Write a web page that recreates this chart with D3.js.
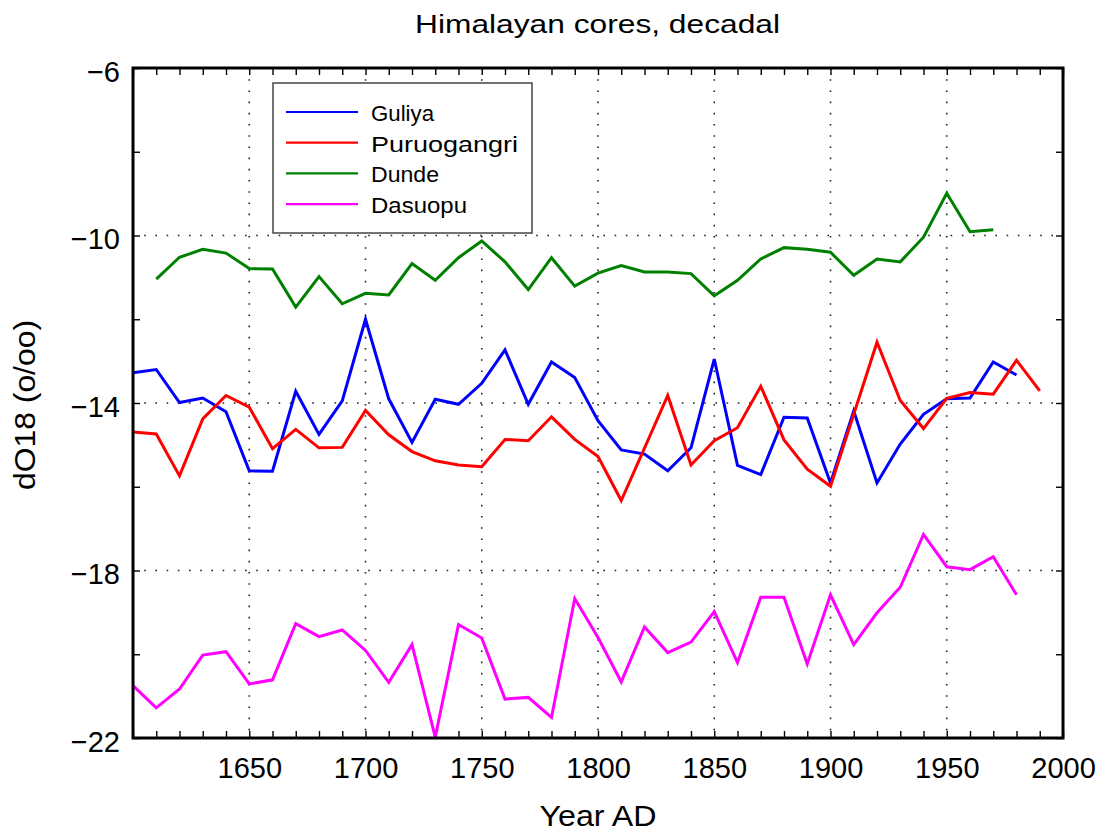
<!DOCTYPE html>
<html>
<head>
<meta charset="utf-8">
<script src="https://cdn.jsdelivr.net/npm/d3@7"></script>
<style>
  html, body { margin: 0; padding: 0; background: #fff; }
  svg { display: block; }
  text { font-family: "Liberation Sans", Arial, sans-serif; fill: #000; }
</style>
</head>
<body>
<svg id="chart" width="1107" height="834"></svg>
<script>
// ---- data ----
const years = [1600,1610,1620,1630,1640,1650,1660,1670,1680,1690,
               1700,1710,1720,1730,1740,1750,1760,1770,1780,1790,
               1800,1810,1820,1830,1840,1850,1860,1870,1880,1890,
               1900,1910,1920,1930,1940,1950,1960,1970,1980,1990];

const guliya = [-13.28,-13.20,-13.99,-13.88,-14.21,-15.62,-15.63,-13.72,-14.75,-13.95,
                -12.00,-13.90,-14.94,-13.91,-14.03,-13.53,-12.73,-14.03,-13.02,-13.39,
                -14.42,-15.12,-15.22,-15.62,-15.07,-12.95,-15.49,-15.71,-14.34,-14.36,
                -15.91,-14.19,-15.91,-14.98,-14.27,-13.90,-13.88,-13.02,-13.33,null];

const puruogangri = [-14.69,-14.74,-15.74,-14.38,-13.82,-14.10,-15.09,-14.63,-15.07,-15.06,
                     -14.18,-14.76,-15.16,-15.38,-15.48,-15.52,-14.87,-14.90,-14.33,-14.87,
                     -15.28,-16.33,-15.08,-13.82,-15.48,-14.90,-14.59,-13.60,-14.88,-15.58,
                     -15.99,-14.27,-12.55,-13.94,-14.61,-13.89,-13.75,-13.79,-12.98,-13.71];

const dunde = [null,-11.04,-10.52,-10.33,-10.42,-10.79,-10.80,-11.71,-10.98,-11.63,
               -11.38,-11.42,-10.67,-11.07,-10.53,-10.13,-10.63,-11.29,-10.53,-11.21,
               -10.90,-10.72,-10.87,-10.87,-10.91,-11.44,-11.07,-10.56,-10.29,-10.33,
               -10.40,-10.95,-10.56,-10.63,-10.04,-8.99,-9.91,-9.86,null,null];

const dasuopu = [-20.75,-21.28,-20.83,-20.02,-19.94,-20.71,-20.61,-19.27,-19.58,-19.42,
                 -19.91,-20.67,-19.77,-21.98,-19.29,-19.61,-21.07,-21.03,-21.51,-18.67,
                 -19.60,-20.66,-19.35,-19.96,-19.71,-18.98,-20.20,-18.64,-18.64,-20.23,
                 -18.58,-19.77,-19.01,-18.40,-17.14,-17.91,-17.98,-17.67,-18.58,null];

const seriesNames = ["Guliya","Puruogangri","Dunde","Dasuopu"];
const seriesValues = [guliya, puruogangri, dunde, dasuopu];
const seriesColors = ["#0000ff","#ff0000","#008000","#ff00ff"];

const xMajorTicks = [1650,1700,1750,1800,1850,1900,1950,2000];
const xMinorTicks = [1600,1610,1620,1630,1640,1650,1660,1670,1680,1690,1700,1710,1720,1730,1740,
                     1750,1760,1770,1780,1790,1800,1810,1820,1830,1840,1850,1860,1870,1880,1890,
                     1900,1910,1920,1930,1940,1950,1960,1970,1980,1990,2000];
const yMajorTicks = [-6,-10,-14,-18,-22];
const yMinorTicks = [-6,-8,-10,-12,-14,-16,-18,-20,-22];
const xGrid = [1650,1700,1750,1800,1850,1900,1950];
const yGrid = [-10,-14,-18];

const titleText = "Himalayan cores, decadal";
const xTitle = "Year AD";
const yTitle = "dO18 (o/oo)";

// ---- layout ----
const L = 133, R = 1063, T = 68, B = 738;
const svg = d3.select("#chart");
const x = d3.scaleLinear().domain([1600, 2000]).range([L, R]);
const y = d3.scaleLinear().domain([-22, -6]).range([B, T]);

// grid
const grid = svg.append("g").attr("stroke", "#222").attr("stroke-width", 1.6)
  .attr("stroke-dasharray", "1.6,9.6").attr("fill", "none");
xGrid.forEach(v => grid.append("line").attr("x1", x(v)).attr("x2", x(v)).attr("y1", T).attr("y2", B));
yGrid.forEach(v => grid.append("line").attr("x1", L).attr("x2", R).attr("y1", y(v)).attr("y2", y(v)));

// minor ticks (all four sides, pointing inward)
function styleTicks(g) {
  g.select(".domain").remove();
  g.selectAll(".tick line").attr("stroke", "#000").attr("stroke-width", 1.4);
  g.selectAll(".tick text").remove();
}
svg.append("g").attr("transform", `translate(0,${B})`)
  .call(d3.axisBottom(x).tickValues(xMinorTicks).tickSize(-7).tickFormat("")).call(styleTicks);
svg.append("g").attr("transform", `translate(0,${T})`)
  .call(d3.axisTop(x).tickValues(xMinorTicks).tickSize(-7).tickFormat("")).call(styleTicks);
svg.append("g").attr("transform", `translate(${L},0)`)
  .call(d3.axisLeft(y).tickValues(yMinorTicks).tickSize(-7).tickFormat("")).call(styleTicks);
svg.append("g").attr("transform", `translate(${R},0)`)
  .call(d3.axisRight(y).tickValues(yMinorTicks).tickSize(-7).tickFormat("")).call(styleTicks);

// tick labels
const xl = svg.append("g").attr("transform", `translate(0,${B})`)
  .call(d3.axisBottom(x).tickValues(xMajorTicks).tickSize(0).tickPadding(0).tickFormat(d3.format("d")));
xl.select(".domain").remove();
xl.selectAll(".tick text").attr("y", 40).attr("dy", null)
  .attr("font-size", 29).attr("font-family", "Liberation Sans, Arial, sans-serif").attr("fill", "#000");

const yl = svg.append("g").attr("transform", `translate(${L},0)`)
  .call(d3.axisLeft(y).tickValues(yMajorTicks).tickSize(0).tickPadding(0)
    .tickFormat(d => (d < 0 ? "\u2212" : "") + Math.abs(d)));
yl.select(".domain").remove();
yl.selectAll(".tick text").attr("x", -13).attr("dy", null).attr("y", 13)
  .attr("font-size", 29).attr("font-family", "Liberation Sans, Arial, sans-serif").attr("fill", "#000");

// lines
const line = d3.line()
  .defined(d => d.v !== null)
  .x(d => x(d.year)).y(d => y(d.v));
seriesValues.forEach((vals, i) => {
  const pts = years.map((yr, j) => ({ year: yr, v: vals[j] }));
  svg.append("path").datum(pts)
    .attr("d", line).attr("fill", "none")
    .attr("stroke", seriesColors[i]).attr("stroke-width", 3)
    .attr("stroke-linejoin", "miter");
});

// frame
svg.append("rect").attr("x", L).attr("y", T).attr("width", R - L).attr("height", B - T)
  .attr("fill", "none").attr("stroke", "#000").attr("stroke-width", 3);

// legend
const lg = svg.append("g");
lg.append("rect").attr("x", 273).attr("y", 83).attr("width", 259).attr("height", 150)
  .attr("fill", "#fff").attr("stroke", "#444").attr("stroke-width", 1.5);
const legendWidths = [63, 147, 68, 96];
seriesNames.forEach((name, i) => {
  const ly = 112 + i * 30.7;
  lg.append("line").attr("x1", 286).attr("x2", 358).attr("y1", ly).attr("y2", ly)
    .attr("stroke", seriesColors[i]).attr("stroke-width", 2.2);
  lg.append("text").attr("x", 371).attr("y", ly + 9)
    .attr("font-size", 22).attr("textLength", legendWidths[i]).attr("lengthAdjust", "spacingAndGlyphs")
    .text(name);
});

// titles
svg.append("text").attr("x", 597.5).attr("y", 33).attr("text-anchor", "middle")
  .attr("font-size", 25).attr("textLength", 365).attr("lengthAdjust", "spacingAndGlyphs")
  .text(titleText);
svg.append("text").attr("x", 598).attr("y", 826).attr("text-anchor", "middle")
  .attr("font-size", 29).attr("textLength", 117).attr("lengthAdjust", "spacingAndGlyphs")
  .text(xTitle);
svg.append("text").attr("transform", "translate(35,405) rotate(-90)").attr("text-anchor", "middle")
  .attr("font-size", 29).attr("textLength", 170).attr("lengthAdjust", "spacingAndGlyphs")
  .text(yTitle);
</script>
</body>
</html>
